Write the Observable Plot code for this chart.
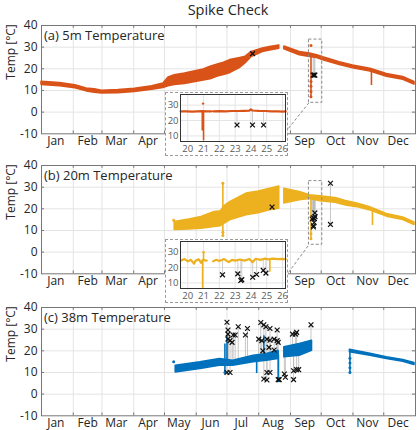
<!DOCTYPE html>
<html><head><meta charset="utf-8">
<script src="https://cdn.jsdelivr.net/npm/d3@7"></script>
<script src="https://cdn.jsdelivr.net/npm/@observablehq/plot@0.6"></script>
<style>
body{margin:0;background:#fff;font-family:"Open Sans",sans-serif;}
#root{position:relative;width:420px;height:430px;overflow:hidden;background:#fff;}
#root svg{position:absolute;left:0;}
.title{position:absolute;left:41px;top:0;width:374px;height:20px;line-height:20px;text-align:center;font-size:14.5px;color:#262626;}
.inset{position:absolute;background:#fff;outline:1px dashed #9a9a9a;outline-offset:-1px;}
.inset svg{position:absolute;left:0;top:0;}
</style></head><body><div id="root"></div>
<script>
// ---------- shared ----------
const TITLE = "Spike Check";
const Y_LABEL = "Temp [°C]";
const MONTHS = ["Jan","Feb","Mar","Apr","May","Jun","Jul","Aug","Sep","Oct","Nov","Dec"];
const MONTHS_UNDER_INSET = ["May","Jun","Jul","Aug"];
const Y_TICKS = [-10, 0, 10, 20, 30, 40];
const INSET_X_TICKS = [20, 21, 22, 23, 24, 25, 26];
const INSET_Y_TICKS = [10, 20, 30];
const COLORS = ["#D95319", "#EDB120", "#0072BD"];
const LABELS = ["(a) 5m Temperature", "(b) 20m Temperature", "(c) 38m Temperature"];

// ---------- panel (a) 5 m ----------
const A_DATES = ["2019-01-01","2019-01-19","2019-02-03","2019-02-14","2019-02-22","2019-03-01","2019-03-17","2019-04-02","2019-04-19","2019-04-30","2019-05-05","2019-05-11","2019-05-21","2019-06-07","2019-06-15","2019-06-22","2019-06-28","2019-07-04","2019-07-14","2019-07-19","2019-07-25","2019-08-05","2019-08-12","2019-08-21","2019-08-22","2019-08-26","2019-09-10","2019-09-20","2019-09-27","2019-10-03","2019-10-19","2019-11-01","2019-11-18","2019-12-04","2019-12-20","2019-12-31"];
const A_LO = [12.6,12.0,11.0,9.6,9.0,8.6,8.8,9.3,10.3,11.2,12.0,12.5,13.0,14.5,15.2,16.5,17.2,18.0,20.5,22.5,25.5,27.8,28.5,29.3,NaN,29.0,26.3,25.5,25.0,24.0,21.8,20.3,18.8,16.4,15.0,12.7];
const A_HI = [14.0,13.4,12.4,10.9,10.6,9.9,10.2,10.8,11.9,13.2,16.0,17.0,17.8,19.5,21.0,22.0,22.8,24.0,25.0,25.5,27.8,29.4,30.0,30.8,NaN,30.3,27.8,27.0,26.3,25.3,23.0,21.5,20.0,17.6,16.2,13.9];
const A_SPIKE_DATES = ["2019-09-21","2019-11-19"];
const A_SPIKE_FROM = [26.0, 19.6];
const A_SPIKE_TO = [7.1, 12.3];
const A_DOT_DATES = ["2019-09-21","2019-09-21","2019-09-21","2019-09-21","2019-09-21"];
const A_DOT_VALUES = [30.8, 7.1, 9.5, 12.0, 14.2];
const A_MARK_DATES = ["2019-07-26"];
const A_MARK_VALUES = [27.0];
const A_MARK_BASE = [27.0];
// inset (a): days of September
const IA_DAYS = [19.55,19.9,20.3,20.6,20.85,21.2,21.5,21.55,21.62,22.0,22.4,22.8,23.2,23.6,23.9,24.0,24.1,24.5,24.9,25.3,25.7,26.0,26.2];
const IA_VALUES = [25.9,26.0,25.8,26.0,26.1,25.9,26.0,NaN,26.0,26.1,26.0,26.2,26.2,26.3,26.4,27.3,26.5,26.3,26.2,26.0,25.9,25.8,25.9];
const IA_SPIKE_DAYS = [20.92, 21.0];
const IA_SPIKE_FROM = [26.0, 26.0];
const IA_SPIKE_TO = [13.2, 6.8];
const IA_DOT_DAYS = [20.97];
const IA_DOT_VALUES = [31.0];
const IA_MARK_DAYS = [23.12, 24.1, 24.8];
const IA_MARK_VALUES = [17.1, 17.1, 17.1];
const IA_MARK_BASE = [26.1, 26.3, 26.1];
const A_ZOOM_DATES = ["2019-09-19","2019-10-02"];
const A_ZOOM_TEMPS = [4.3, 33.5];
const A_LINK_DATES = ["2019-08-30","2019-09-19"];
const A_LINK_TEMPS = [-7.5, 4.3];

// ---------- panel (b) 20 m ----------
const B_DATES = ["2019-05-11","2019-05-25","2019-06-06","2019-06-19","2019-06-25","2019-06-28","2019-07-04","2019-07-20","2019-08-01","2019-08-12","2019-08-21","2019-08-22","2019-08-26","2019-09-10","2019-09-20","2019-09-30","2019-10-15","2019-10-25","2019-11-05","2019-11-17","2019-12-04","2019-12-20","2019-12-31"];
const B_LO = [10.2,10.5,10.8,11.6,12.0,13.0,14.7,17.0,18.0,19.3,20.0,NaN,22.5,24.0,24.5,23.5,22.8,21.6,20.8,19.4,16.4,14.8,12.5];
const B_HI = [13.9,15.0,16.2,18.5,18.8,21.0,23.1,27.0,28.0,29.3,30.3,NaN,29.2,27.7,26.3,25.8,25.0,23.6,22.4,20.8,17.6,16.0,13.7];
const B_SPIKE_DATES = ["2019-06-27","2019-09-21","2019-11-20"];
const B_SPIKE_FROM = [7.7, 24.5, 19.8];
const B_SPIKE_TO = [31.8, 6.2, 12.3];
const B_DOT_DATES = ["2019-05-10","2019-06-27","2019-06-27","2019-06-27","2019-09-21","2019-09-21"];
const B_DOT_VALUES = [14.7, 31.8, 7.7, 9.2, 6.2, 8.5];
const B_MARK_DATES = ["2019-08-14","2019-10-10","2019-10-10"];
const B_MARK_VALUES = [20.8, 31.8, 12.8];
const B_MARK_BASE = [20.8, 24.5, 24.5];
const IB_DAYS = [19.55,19.8,20.0,20.2,20.4,20.5,20.7,20.85,20.95,21.2,21.4,21.6,21.8,22.0,22.3,22.6,22.8,23.0,23.3,23.6,23.9,24.1,24.3,24.6,24.9,25.1,25.4,25.7,26.0,26.2];
const IB_VALUES = [24.5,25.5,24.0,25.0,22.5,24.5,25.3,23.0,25.0,24.5,NaN,24.0,25.0,24.2,25.5,23.5,25.0,24.5,25.2,24.5,25.5,23.5,25.7,25.0,25.8,25.3,25.8,25.5,25.6,25.4];
const IB_SPIKE_DAYS = [20.94, 21.0, 25.2];
const IB_SPIKE_FROM = [24.5, 25.0, 25.0];
const IB_SPIKE_TO = [6.5, 30.0, 17.0];
const IB_DOT_DAYS = [21.0];
const IB_DOT_VALUES = [30.0];
const IB_MARK_DAYS = [22.2, 23.17, 23.36, 23.42, 24.11, 24.36, 24.78, 24.95];
const IB_MARK_VALUES = [15.3, 15.9, 11.6, 12.2, 13.7, 15.5, 18.1, 16.4];
const IB_MARK_BASE = [24.5, 24.8, 24.6, 24.6, 24.5, 25.0, 25.3, 25.1];
const B_ZOOM_DATES = ["2019-09-19","2019-10-02"];
const B_ZOOM_TEMPS = [3.4, 32.8];
const B_LINK_DATES = ["2019-08-30","2019-09-19"];
const B_LINK_TEMPS = [-9.4, 3.4];

// ---------- panel (c) 38 m ----------
const C_DATES = ["2019-05-12","2019-06-05","2019-06-24","2019-07-07","2019-07-27","2019-08-09","2019-08-20","2019-08-21","2019-08-26","2019-09-10","2019-09-22","2019-09-23","2019-10-29","2019-11-18","2019-12-04","2019-12-20","2019-12-31"];
const C_LO = [10.0,11.6,13.1,13.1,14.7,15.4,16.2,NaN,17.0,17.7,20.0,NaN,19.3,17.7,16.2,15.0,13.5];
const C_HI = [13.1,14.7,16.2,15.4,17.7,18.5,20.0,NaN,21.6,23.1,24.6,NaN,20.5,18.6,17.0,15.8,14.4];
const C_SPIKE_DATES = ["2019-06-29","2019-07-01","2019-07-30","2019-08-06","2019-08-20","2019-10-29"];
const C_SPIKE_FROM = [10.0, 15.0, 9.5, 18.0, 6.2, 10.0];
const C_SPIKE_TO = [23.1, 27.0, 15.0, 27.0, 20.0, 19.5];
const C_DOT_DATES = ["2019-05-10","2019-10-29","2019-10-29","2019-10-29","2019-10-29","2019-06-29","2019-08-20"];
const C_DOT_VALUES = [15.0, 10.0, 12.2, 14.4, 16.6, 10.0, 6.2];
const C_MARK_DATES = ["2019-07-01","2019-07-02","2019-07-02","2019-07-02","2019-07-01","2019-07-04","2019-07-04","2019-07-06","2019-07-07","2019-07-09","2019-07-12","2019-07-19","2019-07-21","2019-08-01","2019-08-03","2019-08-04","2019-08-05","2019-08-06","2019-08-06","2019-08-08","2019-08-09","2019-08-09","2019-08-09","2019-08-11","2019-08-12","2019-08-12","2019-08-12","2019-08-16","2019-08-16","2019-08-19","2019-08-19","2019-08-20","2019-08-20","2019-08-21","2019-08-26","2019-08-27","2019-09-03","2019-09-04","2019-09-04","2019-09-06","2019-09-07","2019-09-07","2019-09-09","2019-09-21"];
const C_MARK_VALUES = [33.2,29.6,27.7,25.4,10.0,24.7,10.0,23.9,27.3,27.3,31.1,27.3,30.3,25.4,33.1,24.7,20.0,32.0,7.0,31.1,25.4,6.5,10.0,21.6,30.3,24.9,10.0,25.4,20.4,29.6,24.7,23.9,6.7,6.7,9.3,7.8,27.7,6.7,10.8,27.7,11.3,28.5,11.3,32.0];
const C_MARK_BASE = [15.0,15.0,15.0,15.0,15.0,15.0,15.0,15.0,15.0,15.0,15.0,15.5,15.5,17.0,17.0,17.0,17.0,17.0,17.0,17.0,17.0,17.0,17.0,17.0,17.0,17.0,17.0,18.0,18.0,18.0,18.0,18.0,18.0,18.0,19.0,19.0,20.0,20.0,20.0,20.0,20.0,20.0,20.0,22.0];

// ---------- helpers ----------
const parse = s => new Date(s + "T00:00:00Z");
const sepDay = d => new Date(Date.UTC(2019, 8, 1) + (d - 1) * 864e5);
const X0 = parse("2019-01-01"), X1 = parse("2020-01-01");
const monthStarts = d3.utcMonths(X0, X1);
const midMonths = monthStarts.map(d => d3.utcDay.offset(d, 14));
const FONT = "'Open Sans', sans-serif";
const GRID = "#e4e4e4";
const TXT = "#262626";

const rows = (xs, cols) => xs.map((x, i) => Object.fromEntries([["x", x], ...Object.entries(cols).map(([k, v]) => [k, v[i]])]));

function mainPanel(idx, top, d) {
  const color = COLORS[idx];
  const band = rows(d.dates.map(parse), {lo: d.lo, hi: d.hi});
  const spikes = rows(d.spikeDates.map(parse), {from: d.spikeFrom, to: d.spikeTo});
  const dots = rows(d.dotDates.map(parse), {v: d.dotValues});
  const marks = rows(d.markDates, {v: d.markValues, base: d.markBase});
  const innerMonths = monthStarts.slice(1);
  const innerY = Y_TICKS.slice(1, -1);
  const tickLen = 1.3;
  const tickDays = 3;
  const xTicks = d.zoomDates ? midMonths.filter(t => !MONTHS_UNDER_INSET.includes(MONTHS[t.getUTCMonth()])) : midMonths;
  const m = [
    Plot.ruleX(innerMonths, {stroke: GRID, strokeWidth: 1}),
    Plot.ruleY(innerY, {stroke: GRID, strokeWidth: 1}),
    Plot.ruleX(innerMonths, {y1: Y_TICKS[5], y2: Y_TICKS[5] - tickLen, stroke: "#777"}),
    Plot.ruleX(innerMonths, {y1: Y_TICKS[0], y2: Y_TICKS[0] + tickLen, stroke: "#777"}),
    Plot.ruleY(innerY, {x1: X0, x2: d3.utcDay.offset(X0, tickDays), stroke: "#777"}),
    Plot.ruleY(innerY, {x1: d3.utcDay.offset(X1, -tickDays), x2: X1, stroke: "#777"}),
    Plot.ruleX(marks.filter(r => r.base !== r.v), {x: "x", y1: "base", y2: "v", stroke: "#b8b8b8", strokeWidth: 0.8}),
    Plot.areaY(band, {x: "x", y1: "lo", y2: "hi", fill: color, stroke: color, strokeWidth: 1.6}),
    Plot.ruleX(spikes, {x: "x", y1: "from", y2: "to", stroke: color, strokeWidth: 1.6}),
    Plot.dot(dots, {x: "x", y: "v", r: 1.5, fill: color}),
    Plot.dot(marks, {x: "x", y: "v", symbol: "times", r: 2.3, stroke: "#111", strokeWidth: 1.2})
  ];
  if (d.zoomDates) {
    m.push(Plot.rect([0], {x1: () => parse(d.zoomDates[0]), x2: () => parse(d.zoomDates[1]), y1: () => d.zoomTemps[0], y2: () => d.zoomTemps[1], fill: "none", stroke: "#8a8a8a", strokeDasharray: "3,2"}));
    m.push(Plot.link([0], {x1: () => parse(d.linkDates[0]), y1: () => d.linkTemps[0], x2: () => parse(d.linkDates[1]), y2: () => d.linkTemps[1], stroke: "#8a8a8a", strokeDasharray: "3,2"}));
  }
  m.push(Plot.text([LABELS[idx]], {frameAnchor: "top-left", textAnchor: "start", lineAnchor: "top", dx: 2.5, dy: 5, fontSize: 13, fill: TXT}));
  m.push(Plot.text([Y_LABEL], {frameAnchor: "left", rotate: -90, dx: -30, fontSize: 12, fill: TXT}));
  m.push(Plot.frame({stroke: "#777"}));
  const svg = Plot.plot({
    width: 420, height: 128.3,
    marginLeft: 41, marginRight: 5, marginTop: 5, marginBottom: 15,
    x: {type: "utc", domain: [X0, X1], ticks: xTicks, tickFormat: t => MONTHS[t.getUTCMonth()], tickSize: 0, tickPadding: 3, label: null},
    y: {domain: [Y_TICKS[0], Y_TICKS[5]], ticks: Y_TICKS, tickFormat: t => String(t), tickSize: 0, tickPadding: 4, label: null},
    style: {fontFamily: FONT, fontSize: "12px", color: TXT, overflow: "visible", background: "transparent"},
    marks: m
  });
  svg.style.top = top + "px";
  return svg;
}

function insetPanel(idx, left, top, d) {
  const color = COLORS[idx];
  const series = rows(d.days, {v: d.values});
  const spikes = rows(d.spikeDays, {from: d.spikeFrom, to: d.spikeTo});
  const dots = rows(d.dotDays, {v: d.dotValues});
  const marks = rows(d.markDays, {v: d.markValues, base: d.markBase});
  const div = document.createElement("div");
  div.className = "inset";
  div.style.left = left + "px"; div.style.top = top + "px";
  div.style.width = "123px"; div.style.height = "64px";
  const svg = Plot.plot({
    width: 123, height: 64,
    marginLeft: 15, marginRight: 3, marginTop: 2, marginBottom: 15,
    x: {domain: [19.54, 26.19], ticks: INSET_X_TICKS, tickFormat: t => String(t), tickSize: 0, tickPadding: 4, label: null},
    y: {domain: [6.4, 36.9], ticks: INSET_Y_TICKS, tickFormat: t => String(t), tickSize: 0, tickPadding: 2, label: null},
    style: {fontFamily: FONT, fontSize: "9.5px", color: "#5a5a5a", overflow: "visible", background: "transparent"},
    marks: [
      Plot.ruleX(INSET_X_TICKS, {stroke: GRID}),
      Plot.ruleY(INSET_Y_TICKS, {stroke: GRID}),
      Plot.ruleX(marks, {x: "x", y1: "base", y2: "v", stroke: "#c4c4c4", strokeWidth: 0.8}),
      Plot.line(series, {x: "x", y: "v", stroke: color, strokeWidth: 2.2}),
      Plot.ruleX(spikes, {x: "x", y1: "from", y2: "to", stroke: color, strokeWidth: 1.6}),
      Plot.dot(dots, {x: "x", y: "v", r: 1.2, fill: color}),
      Plot.dot(marks, {x: "x", y: "v", symbol: "times", r: 2.3, stroke: "#111", strokeWidth: 1.3}),
      Plot.frame({stroke: "#333"})
    ]
  });
  div.appendChild(svg);
  return div;
}

const root = document.getElementById("root");
const t = document.createElement("div"); t.className = "title"; t.textContent = TITLE; root.appendChild(t);

root.appendChild(mainPanel(0, 20, {
  dates: A_DATES, lo: A_LO, hi: A_HI,
  spikeDates: A_SPIKE_DATES, spikeFrom: A_SPIKE_FROM, spikeTo: A_SPIKE_TO,
  dotDates: A_DOT_DATES, dotValues: A_DOT_VALUES,
  markDates: A_MARK_DATES.map(parse).concat(IA_MARK_DAYS.map(sepDay)),
  markValues: A_MARK_VALUES.concat(IA_MARK_VALUES), markBase: A_MARK_BASE.concat(IA_MARK_BASE),
  zoomDates: A_ZOOM_DATES, zoomTemps: A_ZOOM_TEMPS, linkDates: A_LINK_DATES, linkTemps: A_LINK_TEMPS
}));
root.appendChild(mainPanel(1, 160, {
  dates: B_DATES, lo: B_LO, hi: B_HI,
  spikeDates: B_SPIKE_DATES, spikeFrom: B_SPIKE_FROM, spikeTo: B_SPIKE_TO,
  dotDates: B_DOT_DATES, dotValues: B_DOT_VALUES,
  markDates: B_MARK_DATES.map(parse).concat(IB_MARK_DAYS.map(sepDay)),
  markValues: B_MARK_VALUES.concat(IB_MARK_VALUES), markBase: B_MARK_BASE.concat(IB_MARK_BASE),
  zoomDates: B_ZOOM_DATES, zoomTemps: B_ZOOM_TEMPS, linkDates: B_LINK_DATES, linkTemps: B_LINK_TEMPS
}));
root.appendChild(mainPanel(2, 301.7, {
  dates: C_DATES, lo: C_LO, hi: C_HI,
  spikeDates: C_SPIKE_DATES, spikeFrom: C_SPIKE_FROM, spikeTo: C_SPIKE_TO,
  dotDates: C_DOT_DATES, dotValues: C_DOT_VALUES,
  markDates: C_MARK_DATES.map(parse), markValues: C_MARK_VALUES, markBase: C_MARK_BASE
}));
root.appendChild(insetPanel(0, 165, 92, {
  days: IA_DAYS, values: IA_VALUES, spikeDays: IA_SPIKE_DAYS, spikeFrom: IA_SPIKE_FROM, spikeTo: IA_SPIKE_TO,
  dotDays: IA_DOT_DAYS, dotValues: IA_DOT_VALUES, markDays: IA_MARK_DAYS, markValues: IA_MARK_VALUES, markBase: IA_MARK_BASE
}));
root.appendChild(insetPanel(1, 165, 239, {
  days: IB_DAYS, values: IB_VALUES, spikeDays: IB_SPIKE_DAYS, spikeFrom: IB_SPIKE_FROM, spikeTo: IB_SPIKE_TO,
  dotDays: IB_DOT_DAYS, dotValues: IB_DOT_VALUES, markDays: IB_MARK_DAYS, markValues: IB_MARK_VALUES, markBase: IB_MARK_BASE
}));
</script></body></html>
